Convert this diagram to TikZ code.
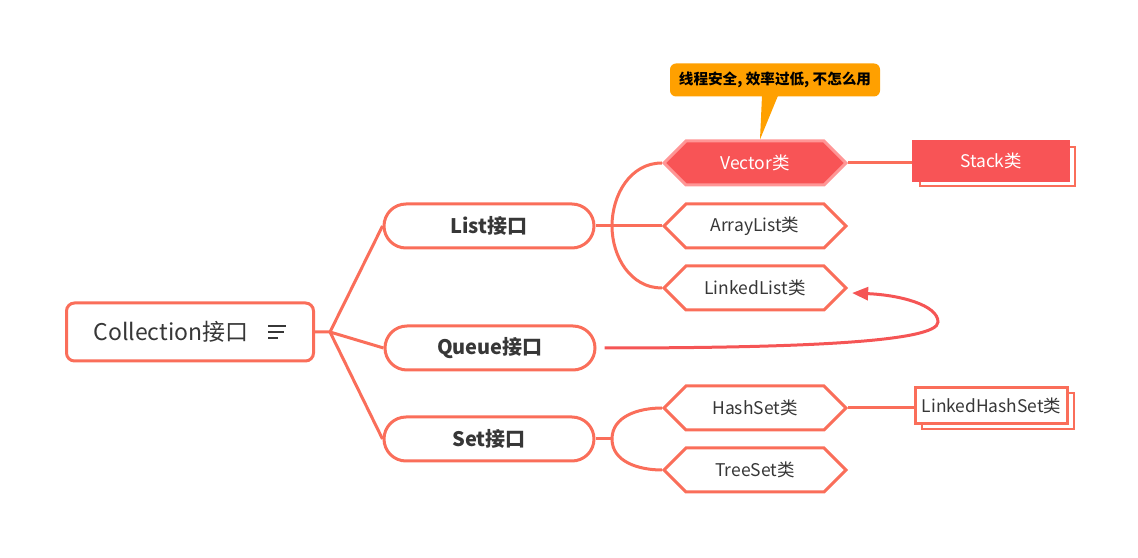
\documentclass[tikz,border=0pt]{standalone}
\usepackage{fontspec}
\setmainfont{Noto Sans CJK SC}
\usetikzlibrary{shapes.symbols, shadows, arrows.meta}

\definecolor{linered}{RGB}{250,110,90}
\definecolor{hotred}{RGB}{248,84,86}
\definecolor{hotrim}{RGB}{255,150,150}
\definecolor{arrowred}{RGB}{245,85,85}
\definecolor{notefill}{RGB}{255,160,0}
\definecolor{textgray}{RGB}{55,55,55}

\tikzset{
  root/.style={rectangle, draw=linered, line width=3pt, rounded corners=8pt, fill=white,
    minimum width=247pt, minimum height=58pt, text=textgray,
    font=\fontsize{23}{26}\selectfont},
  iface/.style={rectangle, draw=linered, line width=3pt, rounded corners=22pt, fill=white,
    minimum width=210pt, minimum height=44pt, text=textgray,
    font=\bfseries\fontsize{20}{24}\selectfont},
  cls/.style={signal, signal to=east and west, signal pointer angle=90, draw=linered,
    line width=3pt, fill=white, minimum width=182pt, minimum height=44pt, text=textgray,
    font=\fontsize{17.5}{20}\selectfont},
  hot/.style={cls, fill=hotred, draw=hotrim, text=white},
  leaf/.style={rectangle, draw=linered, line width=3pt, fill=white, text=textgray,
    minimum width=152pt, minimum height=36pt, inner xsep=3pt, font=\fontsize{17.4}{20}\selectfont,
    copy shadow={shadow xshift=6pt, shadow yshift=-6pt, draw=linered, fill=white, line width=2pt}},
  hotleaf/.style={leaf, fill=hotred, text=white, draw=hotred},
  note/.style={rectangle, fill=notefill, rounded corners=6pt, minimum width=210pt,
    minimum height=33pt, font=\bfseries\fontsize{14.6}{16}\selectfont},
  branch/.style={draw=linered, line width=3pt, line join=round},
}

\begin{document}
\begin{tikzpicture}[x=1pt, y=1pt]
  \useasboundingbox (0,0) rectangle (1138,557);

  % root and interfaces
  \node[root] (coll) at (190,225) {Collection接口\rule{38pt}{0pt}};
  \begin{scope}[shift={(coll.center)}, textgray, line width=1.5pt]
    \draw (78,6) -- (96,6);
    \draw (78,0) -- (94,0);
    \draw (78,-6) -- (88,-6);
  \end{scope}

  \node[iface] (list) at (489,331) {List接口};
  \node[iface] (queue) at (490,209) {Queue接口};
  \node[iface] (set) at (489,118) {Set接口};

  % classes
  \node[hot] (vec) at (755,394) {Vector类};
  \node[cls] (arr) at (755,331) {ArrayList类};
  \node[cls] (lkl) at (755,269) {LinkedList类};
  \node[cls] (hset) at (755,149) {HashSet类};
  \node[cls] (tset) at (755,87) {TreeSet类};

  \node[hotleaf, minimum width=155pt, minimum height=39pt] (stack) at (991,396) {Stack类};
  \node[leaf] (lhset) at (991.5,151.5) {LinkedHashSet类};

  % callout
  \node[note] (tip) at (775,477) {线程安全, 效率过低, 不怎么用};
  \fill[notefill] ([xshift=-13pt,yshift=1pt]tip.south) -- ([xshift=3pt,yshift=1pt]tip.south)
    -- ([xshift=5pt]vec.north) -- cycle;

  % branches
  \coordinate (cfork) at (330,225);
  \draw[branch] (coll.east) -- (cfork) -- (list.west);
  \draw[branch] (cfork) -- (queue.west);
  \draw[branch] (cfork) -- (set.west);

  \coordinate (lfork) at (612,331);
  \draw[branch] (list.east) -- (lfork) -- (arr.west);
  \draw[branch] (lfork) to[out=90, in=180] (vec.west);
  \draw[branch] (lfork) to[out=-90, in=180] (lkl.west);

  \coordinate (sfork) at (612,118);
  \draw[branch] (set.east) -- (sfork);
  \draw[branch] (sfork) to[out=90, in=180] (hset.west);
  \draw[branch] (sfork) to[out=-90, in=180] (tset.west);

  \draw[branch] (vec.east) -- (vec.east -| stack.west);
  \draw[branch] (hset.east) -- (hset.east -| lhset.west);

  % queue link
  \coordinate (qturn) at (938,235);
  \draw[arrowred, line width=3pt, -{Triangle[length=16pt, width=13pt]}]
    ([xshift=8pt]queue.east) .. controls (800,209) and (938,215) .. (qturn)
    .. controls (938,252) and (900,262) .. ([xshift=4pt, yshift=-5pt]lkl.east);
\end{tikzpicture}
\end{document}
